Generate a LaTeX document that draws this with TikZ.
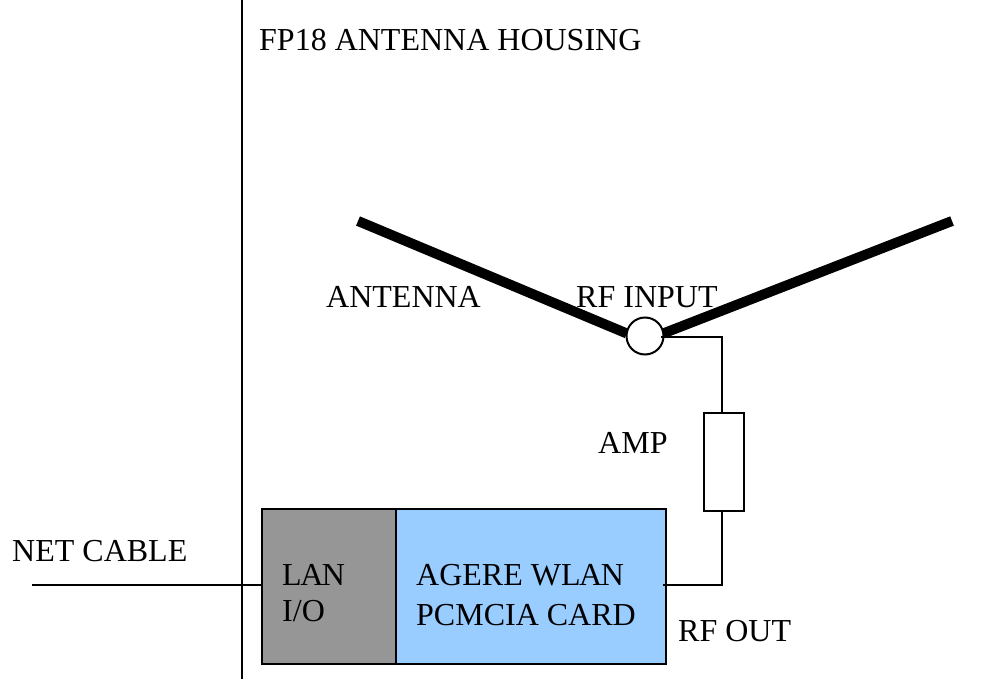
\documentclass[tikz,border=0pt]{standalone}
\usepackage{fontspec}
\setmainfont{Liberation Serif}
\definecolor{cardblue}{HTML}{99CCFF}
\definecolor{langrey}{HTML}{969696}
\tikzset{
  wire/.style={draw=black,line width=2pt},
  arm/.style={draw=black,line width=10pt},
  lbl/.style={inner sep=0pt,anchor=base west,font=\fontsize{32}{36}\selectfont},
  box/.style={draw=black,line width=2pt,inner sep=0pt,outer sep=0pt,anchor=north west}
}
\begin{document}
\begin{tikzpicture}[x=1pt,y=-1pt]
\useasboundingbox (0,0) rectangle (1000,679);
\coordinate (hTL) at (242,0);
\coordinate (hBL) at (242,679);
\draw[wire] (hTL) -- (hBL);
\node[lbl] (title) at (259,50.5) {FP18 ANTENNA HOUSING};
\coordinate (armL) at (358,221);
\coordinate (armR) at (952,221);
\node[circle,draw=black,line width=2pt,minimum size=37pt,inner sep=0pt,outer sep=0pt] (rf) at (645,336) {};
\draw[arm] (armL) -- (rf.172);
\draw[arm] (armR) -- (rf.8);
\node[lbl] (antenna) at (326,307) {ANTENNA};
\node[lbl] (rfin) at (576,307) {RF INPUT};
\node[box,minimum width=40pt,minimum height=98pt] (amp) at (704,413) {};
\node[lbl] (amplbl) at (598,453.5) {AMP};
\node[box,fill=langrey,minimum width=134pt,minimum height=155pt] (lan) at (262,509) {};
\node[box,fill=cardblue,minimum width=270pt,minimum height=155pt] (card) at (396,509) {};
\node[lbl] (lan1) at (282,585) {L\kern-1.5pt A\kern-1.5pt N};
\node[lbl] (lan2) at (282,621) {I/O};
\node[lbl] (c1) at (416,585) {AGERE WL\kern-1.5pt A\kern-1.5pt N};
\node[lbl] (c2) at (416,625) {PCMCIA CARD};
\node[lbl] (rfout) at (678,641) {RF OUT};
\node[lbl] (net) at (12,561) {NET CABLE};
\coordinate (netend) at (32,585);
\coordinate (cardout) at (663,585);
\coordinate (rfout1) at (661,337);
\draw[wire] (netend) -- (lan.west |- netend);
\draw[wire] (rfout1) -| (amp.north -| 722,0);
\draw[wire] (amp.south -| 722,0) |- (cardout);
\end{tikzpicture}
\end{document}
